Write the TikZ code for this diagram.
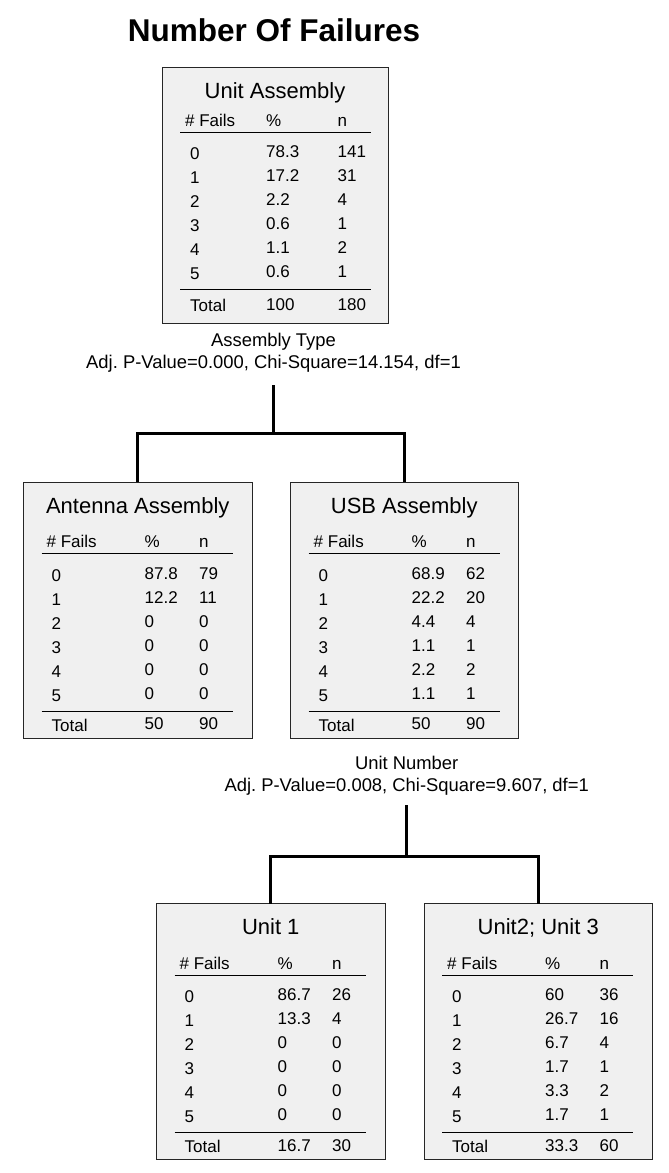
\documentclass[tikz,border=0pt]{standalone}
\usepackage{fontspec}
\setmainfont{Liberation Sans}
\usetikzlibrary{calc}
\frenchspacing
\definecolor{boxgray}{HTML}{F0F0F0}
\tikzset{
  failbox/.style={draw=black!85, line width=1pt, fill=boxgray, inner sep=0pt, outer sep=0pt},
  boxtitle/.style={anchor=base, inner sep=0pt, font=\fontsize{22}{26}\selectfont},
  cell/.style={anchor=base west, inner sep=0pt, font=\fontsize{17}{20}\selectfont},
  tabrule/.style={line width=1pt, black},
  conn/.style={line width=3pt, black},
  splitlabel/.style={anchor=base, inner sep=0pt, font=\fontsize{18.4}{22}\selectfont},
}
% #1 name, #2 left, #3 top, #4 width, #5 title, #6 rows pct/n, #7 total pct, #8 total n
\newcommand{\FailBox}[8]{%
  \node[failbox, minimum width=#4pt, minimum height=256pt, anchor=north west] (#1) at (#2,#3) {};
  \node[boxtitle] (#1-t) at ($(#1.north)+(0,31)$) {#5};
  \node[cell] (#1-h1) at ($(#1.north west)+(23,{65.5+\hdy})$) {\# Fails};
  \node[cell] (#1-h2) at ($(#1.north west)+(\pc,{65.5+\hdy})$) {\%};
  \node[cell] (#1-h3) at ($(#1.north west)+(175.5,{65.5+\hdy})$) {n};
  \draw[tabrule] ($(#1.north west)+(18,{71.5+\hdy})$) -- ($(#1.north west)+(209,{71.5+\hdy})$);
  \foreach \pv/\nv [count=\i from 0] in {#6} {
    \node[cell] (#1-f\i) at ($(#1.north west)+(28,{99+24*\i+\hdy})$) {\i};
    \node[cell] (#1-p\i) at ($(#1.north west)+(\pc,{97+24*\i+\hdy})$) {\pv};
    \node[cell] (#1-n\i) at ($(#1.north west)+(175.5,{97+24*\i+\hdy})$) {\nv};
  }
  \draw[tabrule] ($(#1.north west)+(18,{229+\hdy})$) -- ($(#1.north west)+(209,{229+\hdy})$);
  \node[cell] (#1-tl) at ($(#1.north west)+(28,{249+\tdy})$) {Total};
  \node[cell] (#1-tp) at ($(#1.north west)+(\pc,{247.5+\tdy})$) {#7};
  \node[cell] (#1-tn) at ($(#1.north west)+(175.5,{247.5+\tdy})$) {#8};
}
\begin{document}
\begin{tikzpicture}[x=1pt, y=-1pt]
  \useasboundingbox (0,0) rectangle (669,1173);
  \node[anchor=base, inner sep=0pt, font=\fontsize{31.5}{36}\selectfont\bfseries] (title) at (274,41) {Number Of Failures};

  \def\pc{104}\def\hdy{-6.5}\def\tdy{-4.5}
  \FailBox{top}{162}{67}{226}{Unit Assembly}{78.3/141,17.2/31,2.2/4,0.6/1,1.1/2,0.6/1}{100}{180}

  \def\pc{121}\def\hdy{0}\def\tdy{0}
  \FailBox{ant}{23.5}{482}{228.5}{Antenna Assembly}{87.8/79,12.2/11,0/0,0/0,0/0,0/0}{50}{90}
  \FailBox{usb}{290.5}{482}{227.5}{USB Assembly}{68.9/62,22.2/20,4.4/4,1.1/1,2.2/2,1.1/1}{50}{90}
  \FailBox{u1}{156.5}{903.5}{228.5}{Unit 1}{86.7/26,13.3/4,0/0,0/0,0/0,0/0}{16.7}{30}
  \FailBox{u2}{424}{903.5}{228.5}{Unit2; Unit 3}{60/36,26.7/16,6.7/4,1.7/1,3.3/2,1.7/1}{33.3}{60}

  \node[splitlabel] (lab1a) at (273.5,346) {Assembly Type};
  \node[splitlabel] (lab1b) at (273.5,368) {Adj. P-Value=0.000, Chi-Square=14.154, df=1};
  \node[splitlabel] (lab2a) at (406.7,769.5) {Unit Number};
  \node[splitlabel] (lab2b) at (406.7,791.5) {Adj. P-Value=0.008, Chi-Square=9.607, df=1};

  \coordinate (s1top) at (273.5,385);
  \coordinate (s1) at (273.5,433);
  \draw[conn] (s1top) -- (s1);
  \draw[conn] (ant.north) |- (s1) -| (usb.north);

  \coordinate (s2top) at (406.7,805);
  \coordinate (s2) at (406.7,856);
  \draw[conn] (s2top) -- (s2);
  \draw[conn] (u1.north) |- (s2) -| (u2.north);
\end{tikzpicture}
\end{document}
